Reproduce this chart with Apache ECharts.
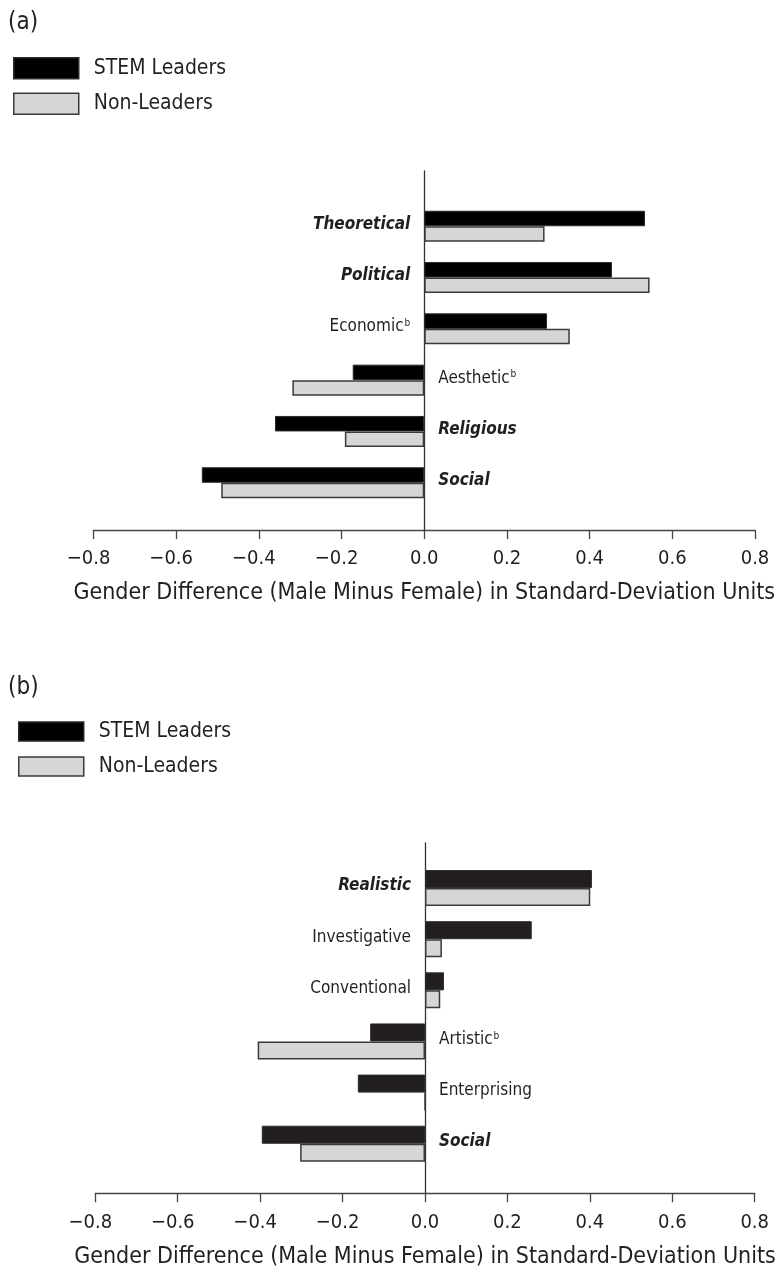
<!DOCTYPE html>
<html>
<head>
<meta charset="utf-8">
<script src="https://cdn.jsdelivr.net/npm/echarts@6/dist/echarts.min.js"></script>
<style>
html,body{margin:0;padding:0;background:#fff;}
#chart{width:779px;height:1272px;}
</style>
</head>
<body>
<div id="chart"></div>
<script>
// ---------- data ----------
const seriesNames = ['STEM Leaders', 'Non-Leaders'];

const categoriesA = ['Theoretical', 'Political', 'Economic', 'Aesthetic', 'Religious', 'Social'];
const stemA = [0.534, 0.454, 0.297, -0.173, -0.361, -0.538];
const nonA  = [0.291, 0.545, 0.352, -0.319, -0.192, -0.491];
const boldA = ['Theoretical', 'Political', 'Religious', 'Social'];
const supA  = ['Economic', 'Aesthetic'];

const categoriesB = ['Realistic', 'Investigative', 'Conventional', 'Artistic', 'Enterprising', 'Social'];
const stemB = [0.405, 0.259, 0.046, -0.133, -0.163, -0.396];
const nonB  = [0.401, 0.041, 0.037, -0.406, 0, -0.303];
const boldB = ['Realistic', 'Social'];
const supB  = ['Artistic'];

const xMin = -0.8, xMax = 0.8, xStep = 0.2;
const panelTitles = ['(a)', '(b)'];
const axisTitle = 'Gender Difference (Male Minus Female) in Standard-Deviation Units';

// ---------- styling ----------
const W = 779;
const FONT = "'Liberation Sans Narrow', 'DejaVu Sans Condensed', 'Arial Narrow', sans-serif";
const INK = '#231f20';
const GRAY = '#d5d6d8';
const EDGE = '#3a3a3a';

function tickFmt(v) {
  const s = Math.abs(v).toFixed(1);
  return v < -1e-9 ? '\u2212' + s + '{ph|}' : s;
}

const richCat = {
  r:  { fontFamily: FONT, fontSize: 17, color: INK, padding: [0, 0, 4, 0] },
  bi: { fontFamily: FONT, fontSize: 17, color: INK, fontWeight: 'bold', fontStyle: 'italic', padding: [0, 0, 4, 0] },
  s:  { fontFamily: FONT, fontSize: 10, color: INK, verticalAlign: 'top', padding: [0, 0, 0, 1] }
};

function catFormatter(cats, stems, bolds, sups, leftSide) {
  return function (value) {
    const i = cats.indexOf(value);
    const isLeft = stems[i] >= 0;
    if (isLeft !== leftSide) return '';
    if (bolds.indexOf(value) >= 0) return '{bi|' + value + '}';
    if (sups.indexOf(value) >= 0) return '{r|' + value + '}{s|b}';
    return '{r|' + value + '}';
  };
}

// panel geometry
const P = [
  { left: 93.5, right: 24, lineTop: 171, axisY: 530, barTop: 200.6, barH: 307.8, barW: 15.5, titleTop: 11, legendLeft: 13, legendTop: 57, itemH: 21, itemGap: 13 },
  { left: 95.3, right: 24.3, lineTop: 843, axisY: 1193.3, barTop: 862.5, barH: 306.8, barW: 18, titleTop: 676, legendLeft: 18, legendTop: 721, itemH: 19, itemGap: 14 }
];
const panels = [
  { cats: categoriesA, stem: stemA, non: nonA, bolds: boldA, sups: supA, stemColor: '#000000' },
  { cats: categoriesB, stem: stemB, non: nonB, bolds: boldB, sups: supB, stemColor: INK }
];

const grid = [], xAxis = [], yAxis = [], series = [], title = [], legend = [];
panels.forEach(function (pd, k) {
  const g = P[k];
  const plotW = W - g.left - g.right;
  // shift of the category axes from the grid's left edge to the value 0 of the x scale
  const zeroShift = plotW * (0 - xMin) / (xMax - xMin);

  const gLine = grid.length;
  grid.push({ left: g.left, right: g.right, top: g.lineTop, height: g.axisY - g.lineTop, containLabel: false, outerBoundsMode: 'none' });
  const gBar = grid.length;
  grid.push({ left: g.left, right: g.right, top: g.barTop, height: g.barH, containLabel: false, outerBoundsMode: 'none' });

  // visible x-axis + zero line grid
  xAxis.push({
    type: 'value', gridIndex: gLine, min: xMin, max: xMax, interval: xStep,
    axisLine: { show: true, onZero: false, lineStyle: { color: '#444', width: 1.3 } },
    axisTick: { show: true, length: 9, lineStyle: { color: '#444', width: 1.3 } },
    splitLine: { show: false },
    axisLabel: { formatter: tickFmt, margin: 19, fontFamily: FONT, fontSize: 20, color: INK,
      rich: { ph: { width: 10 } } },
    name: axisTitle, nameLocation: 'middle', nameGap: 52,
    nameTextStyle: { fontFamily: FONT, fontSize: 23, color: INK }
  });
  yAxis.push({
    type: 'value', gridIndex: gLine, min: 0, max: 1,
    axisLine: { show: true, onZero: true, lineStyle: { color: '#333', width: 1.3 } },
    axisTick: { show: false }, axisLabel: { show: false }, splitLine: { show: false }
  });

  // bar grid
  const xBar = xAxis.length;
  xAxis.push({ type: 'value', gridIndex: gBar, min: xMin, max: xMax, interval: xStep, show: false, splitLine: { show: false } });
  const yLeft = yAxis.length;
  yAxis.push({
    type: 'category', gridIndex: gBar, data: pd.cats, inverse: true, position: 'left', offset: -zeroShift,
    axisLine: { show: false, onZero: false },
    axisTick: { show: false }, splitLine: { show: false },
    axisLabel: { margin: 14, formatter: catFormatter(pd.cats, pd.stem, pd.bolds, pd.sups, true), rich: richCat }
  });
  yAxis.push({
    type: 'category', gridIndex: gBar, data: pd.cats, inverse: true, position: 'left', offset: -zeroShift,
    axisLine: { show: false, onZero: false },
    axisTick: { show: false }, splitLine: { show: false },
    axisLabel: { inside: true, margin: 14, formatter: catFormatter(pd.cats, pd.stem, pd.bolds, pd.sups, false), rich: richCat }
  });

  series.push({
    name: seriesNames[0], type: 'bar', xAxisIndex: xBar, yAxisIndex: yLeft,
    data: pd.stem, barWidth: g.barW, barGap: '0%',
    itemStyle: { color: pd.stemColor, borderColor: '#2a2a2a', borderWidth: 1 },
    emphasis: { disabled: true }, animation: false
  });
  series.push({
    name: seriesNames[1], type: 'bar', xAxisIndex: xBar, yAxisIndex: yLeft,
    data: pd.non, barWidth: g.barW, barGap: '0%',
    itemStyle: { color: GRAY, borderColor: EDGE, borderWidth: 1.5 },
    emphasis: { disabled: true }, animation: false
  });

  title.push({ text: panelTitles[k], left: 8, top: g.titleTop, padding: 0,
    textStyle: { fontFamily: FONT, fontSize: 24, fontWeight: 'normal', color: INK } });

  legend.push({
    data: seriesNames, orient: 'vertical', left: g.legendLeft, top: g.legendTop, padding: 0,
    itemWidth: 65, itemHeight: g.itemH, itemGap: g.itemGap, icon: 'rect', selectedMode: false,
    itemStyle: { borderWidth: 1.5 },
    textStyle: { fontFamily: FONT, fontSize: 21, color: INK, padding: [0, 0, 0, 10] }
  });
});

const chart = echarts.init(document.getElementById('chart'), null, { renderer: 'canvas' });
chart.setOption({
  backgroundColor: '#ffffff',
  animation: false,
  title: title, legend: legend, grid: grid, xAxis: xAxis, yAxis: yAxis, series: series
});
</script>
</body>
</html>
